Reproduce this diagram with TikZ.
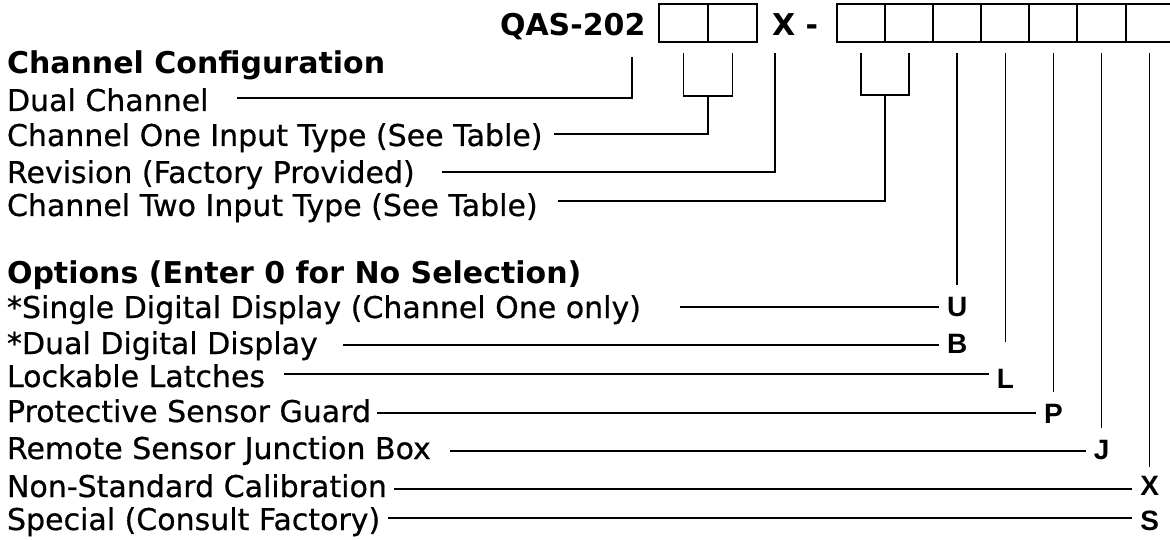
\documentclass[tikz,border=0pt]{standalone}
\usepackage{fontspec}
\setmainfont{DejaVu Sans}
\newfontfamily\regfont{DejaVu Sans}[FakeBold=0.6]
\newfontfamily\letfont{Liberation Sans}
\begin{document}
\begin{tikzpicture}[x=1pt,y=-1pt,
  txt/.style={anchor=base west,inner sep=0pt,outer sep=0pt,font=\regfont\fontsize{30}{36}\selectfont},
  hd/.style={anchor=base west,inner sep=0pt,outer sep=0pt,font=\fontsize{30}{36}\selectfont\bfseries},
  lett/.style={inner sep=0pt,outer sep=0pt,font=\letfont\fontsize{28}{32}\selectfont\bfseries,text height=20pt,text depth=0pt},
  conn/.style={line width=1.6pt},
  cellA/.style={draw,line width=2pt,inner sep=0pt,outer sep=0pt,minimum width=49pt,minimum height=37.4pt},
  cellB/.style={draw,line width=2pt,inner sep=0pt,outer sep=0pt,minimum width=48.1pt,minimum height=37.4pt}]
\useasboundingbox (0,0) rectangle (1170,540);
\clip (0,0) rectangle (1170,540);
% header
\node[hd] (qas) at (500,35.5) {QAS-202};
\node[cellA] (a1) at (683.5,23) {};
\node[cellA] (a2) at (732.5,23) {};
\node[hd] (xdash) at (772,35.5) {X -};
\foreach \i in {1,...,7}{
  \node[cellB] (b\i) at ({861+48.1*(\i-1)},23) {};
}
\coordinate (top) at (0,53);
% left texts
\node[hd]  (cc)     at (7,74)  {Channel Configuration};
\node[txt] (dual)   at (7,111) {Dual Channel};
\node[txt] (one)    at (7,146) {Channel One Input Type (See Table)};
\node[txt] (rev)    at (7,183) {Revision (Factory Provided)};
\node[txt] (two)    at (7,216) {Channel Two Input Type (See Table)};
\node[hd]  (opt)    at (7,283) {Options (Enter 0 for No Selection)};
\node[txt] (single) at (7,318) {*Single Digital Display (Channel One only)};
\node[txt] (ddd)    at (7,354) {*Dual Digital Display};
\node[txt] (lock)   at (7,387) {Lockable Latches};
\node[txt] (prot)   at (7,422) {Protective Sensor Guard};
\node[txt] (rem)    at (7,459) {Remote Sensor Junction Box};
\node[txt] (non)    at (7,497) {Non-Standard Calibration};
\node[txt] (spec)   at (7,530) {Special (Consult Factory)};
% code letters
\node[lett] (lU) at (957.3,306) {U};
\node[lett] (lB) at (957.3,343) {B};
\node[lett] (lL) at (1005.4,378) {L};
\node[lett] (lP) at (1053.5,413) {P};
\node[lett] (lJ) at (1101.6,449) {J};
\node[lett] (lX) at (1149.7,485) {X};
\node[lett] (lS) at (1149.7,520) {S};
% y levels
\coordinate (yDual) at (0,98);
\coordinate (yOne) at (0,134);
\coordinate (yRev) at (0,172);
\coordinate (yTwo) at (0,201);
\coordinate (bar1) at (0,96);
\coordinate (bar2) at (0,95);
\coordinate (yU) at (0,307);
\coordinate (yB) at (0,345);
\coordinate (yL) at (0,374);
\coordinate (yP) at (0,413);
\coordinate (yJ) at (0,451);
\coordinate (yX) at (0,489);
\coordinate (yS) at (0,518);
% Dual channel
\coordinate (dualT) at (632,57);
\draw[conn] ([xshift=28pt]dual.east |- yDual) -- (dualT |- yDual) -- (dualT);
% Channel one bracket
\draw[conn] (a1 |- top) -- (a1 |- bar1) -- (a2 |- bar1) -- (a2 |- top);
\draw[conn] ([xshift=12pt]one.east |- yOne) -- (a1.east |- yOne) -- (a1.east |- bar1);
% Revision
\coordinate (revT) at (775,53);
\draw[conn] ([xshift=27pt]rev.east |- yRev) -- (revT |- yRev) -- (revT);
% Channel two bracket
\draw[conn] (b1 |- top) -- (b1 |- bar2) -- (b2 |- bar2) -- (b2 |- top);
\draw[conn] ([xshift=20pt]two.east |- yTwo) -- (b1.east |- yTwo) -- (b1.east |- bar2);
% option columns
\draw[conn] (b3 |- top) -- (b3 |- 0,285);
\draw[conn] (b4 |- top) -- (b4 |- 0,342);
\draw[conn] (b5 |- top) -- (b5 |- 0,392);
\draw[conn] (b6 |- top) -- (b6 |- 0,428);
\draw[conn] (b7 |- top) -- (b7 |- 0,467);
% option leaders
\draw[conn] ([xshift=39pt]single.east |- yU) -- ([xshift=-8pt]lU.west |- yU);
\draw[conn] ([xshift=25pt]ddd.east |- yB) -- ([xshift=-8pt]lB.west |- yB);
\draw[conn] ([xshift=19pt]lock.east |- yL) -- ([xshift=-8pt]lL.west |- yL);
\draw[conn] ([xshift=6pt]prot.east |- yP) -- ([xshift=-8pt]lP.west |- yP);
\draw[conn] ([xshift=19pt]rem.east |- yJ) -- ([xshift=-8pt]lJ.west |- yJ);
\draw[conn] ([xshift=7pt]non.east |- yX) -- ([xshift=-8pt]lX.west |- yX);
\draw[conn] ([xshift=8pt]spec.east |- yS) -- ([xshift=-8pt]lS.west |- yS);
\end{tikzpicture}
\end{document}
